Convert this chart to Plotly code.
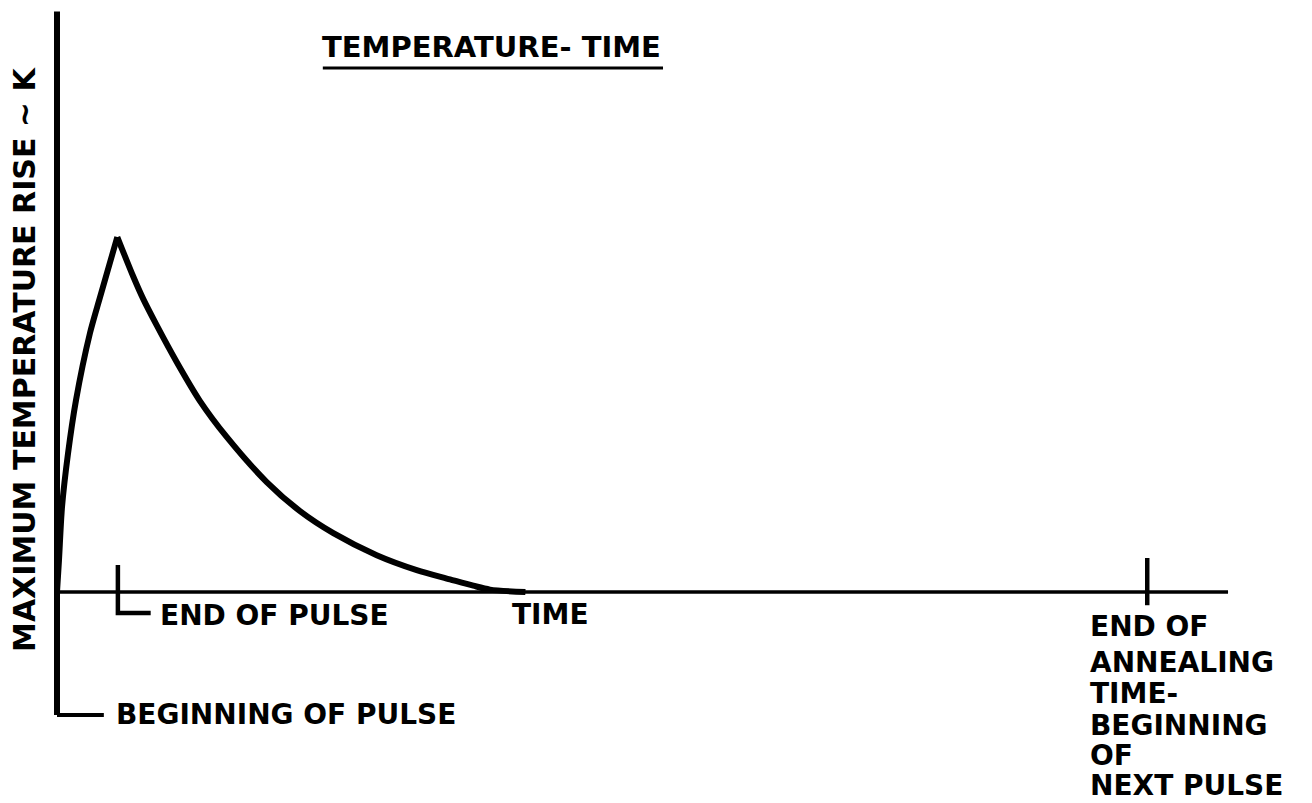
import plotly.graph_objects as go

# ---- data (arbitrary schematic units) ----
# rising part (during the pulse), up to the peak
time_rise = [0.0, 0.17, 0.43, 0.94, 1.62, 2.82, 3.67, 5.15]
temp_rise = [0.0, 0.09, 0.24, 0.39, 0.54, 0.73, 0.83, 1.00]
# cooling part after the pulse, starting at the peak
time_decay = [5.15, 6.52, 7.37, 8.52, 10.22, 12.21, 14.49, 17.91, 20.75,
              23.6, 27.3, 30.72, 33.56, 35.55, 36.98, 40.0]
temp_decay = [1.00, 0.888, 0.825, 0.751, 0.648, 0.538, 0.437, 0.310, 0.228,
              0.166, 0.104, 0.062, 0.036, 0.018, 0.007, 0.0]

pulse_end = 5.2       # end of pulse marker
anneal_end = 93.1     # end of annealing time marker
time_max = 100.0      # length of time axis
y_top = 1.635         # top of temperature axis
y_bottom = -0.346     # bottom of drawn axis (beginning-of-pulse bracket)

title_text = "TEMPERATURE- TIME"
ylabel_text = "MAXIMUM TEMPERATURE RISE ~ K"
xlabel_text = "TIME"
pulse_end_label = "END OF PULSE"
pulse_begin_label = "BEGINNING OF PULSE"
anneal_label_lines = ["END OF", "ANNEALING", "TIME-", "BEGINNING", "OF", "NEXT PULSE"]

FONT = dict(family="DejaVu Sans", color="black", weight="bold")
BLACK = "black"

fig = go.Figure()

def seg(xs, ys, w):
    fig.add_trace(go.Scatter(x=xs, y=ys, mode="lines",
                             line=dict(color=BLACK, width=w),
                             hoverinfo="skip", showlegend=False))

# axes
seg([0, 0], [y_top, y_bottom], 6)
seg([0, 4.0], [y_bottom, y_bottom], 4)
seg([0, time_max], [0, 0], 3.5)
# end of pulse tick + bracket
seg([pulse_end, pulse_end, 8.0], [0.076, -0.059, -0.059], 4.5)
# end of annealing tick
seg([anneal_end, anneal_end], [0.096, -0.037], 4.5)
# temperature curve
for xs, ys in ((time_rise, temp_rise), (time_decay, temp_decay)):
    fig.add_trace(go.Scatter(x=xs, y=ys, mode="lines",
                             line=dict(color=BLACK, width=6, shape="spline", smoothing=0.8),
                             hoverinfo="skip", showlegend=False))

ann = []
ann.append(dict(x=37.1, y=1.534, text=title_text, font=dict(size=29, **FONT),
                xanchor="center", yanchor="middle"))
ann.append(dict(x=-2.78, y=0.655, text=ylabel_text, textangle=-90,
                font=dict(size=30, **FONT), xanchor="center", yanchor="middle"))
ann.append(dict(x=8.6, y=-0.066, text=pulse_end_label, font=dict(size=28, **FONT),
                xanchor="left", yanchor="middle"))
ann.append(dict(x=4.87, y=-0.344, text=pulse_begin_label, font=dict(size=28, **FONT),
                xanchor="left", yanchor="middle"))
ann.append(dict(x=42.1, y=-0.062, text=xlabel_text, font=dict(size=28, **FONT),
                xanchor="center", yanchor="middle"))
line_y = [-0.096, -0.199, -0.285, -0.375, -0.459, -0.546]
for t, yy in zip(anneal_label_lines, line_y):
    ann.append(dict(x=88.0, y=yy, text=t, font=dict(size=28, **FONT),
                    xanchor="left", yanchor="middle"))
for a in ann:
    a.update(xref="x", yref="y", showarrow=False)

fig.update_layout(
    width=1304, height=795,
    margin=dict(l=0, r=0, t=0, b=0),
    paper_bgcolor="white", plot_bgcolor="white",
    xaxis=dict(range=[-4.184, 107.17], visible=False, fixedrange=True),
    yaxis=dict(range=[-0.594, 1.645], visible=False, fixedrange=True),
    annotations=ann,
    shapes=[dict(type="line", xref="x", yref="y", x0=22.7, x1=51.75, y0=1.476, y1=1.476,
                 line=dict(color=BLACK, width=3))],
    showlegend=False,
)

fig.write_html("out.html")
